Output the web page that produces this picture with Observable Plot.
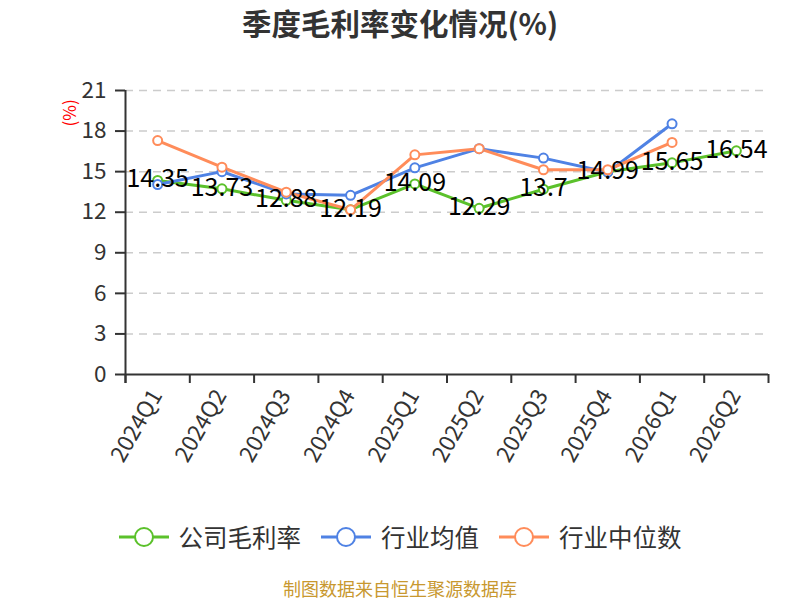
<!DOCTYPE html>
<html><head><meta charset="utf-8">
<script src="https://cdn.jsdelivr.net/npm/d3@7"></script>
<script src="https://cdn.jsdelivr.net/npm/@observablehq/plot@0.6"></script>
<style>
body{margin:0;background:#fff;font-family:"Noto Sans CJK SC",sans-serif}
#wrap{position:relative;width:800px;height:600px;overflow:hidden;background:#fff}
#chart{position:absolute;top:0;left:0}
#title{position:absolute;top:2px;left:0;width:800px;text-align:center;font-size:29.5px;font-weight:bold;color:#333;line-height:40px}
#legend{position:absolute;top:518px;left:0;width:800px;display:flex;justify-content:center;align-items:center;gap:20px;font-size:24.5px;color:#333;line-height:38px}
#legend .item{display:flex;align-items:center;gap:10px}
#footer{position:absolute;top:574px;left:0;width:800px;text-align:center;font-size:18px;color:#C8982F;line-height:28px}
</style></head>
<body>
<div id="wrap">
  <div id="chart"></div>
  <div id="title">季度毛利率变化情况(%)</div>
  <div id="legend"></div>
  <div id="footer">制图数据来自恒生聚源数据库</div>
</div>
<script>
const quarters = ["2024Q1","2024Q2","2024Q3","2024Q4","2025Q1","2025Q2","2025Q3","2025Q4","2026Q1","2026Q2"];
const company = [14.35, 13.73, 12.88, 12.19, 14.09, 12.29, 13.7, 14.99, 15.65, 16.54];
const industryMean = [14.05, 15.0, 13.35, 13.25, 15.28, 16.7, 16.0, 14.96, 18.54];
const industryMedian = [17.3, 15.33, 13.48, 12.18, 16.24, 16.7, 15.14, 15.14, 17.16];
const yTicks = [0, 3, 6, 9, 12, 15, 18, 21];
const seriesNames = ["公司毛利率", "行业均值", "行业中位数"];
const seriesColors = ["#5BC12B", "#4F82E4", "#FF8C5A"];

const toRows = vals => vals.map((v, i) => ({x: i + 0.5, y: v}));
const rows = [company, industryMean, industryMedian].map(toRows);
const bounds = d3.range(0, quarters.length + 1);
const centers = quarters.map((q, i) => i + 0.5);

const marks = [
  Plot.ruleY(yTicks.filter(v => v > 0), {stroke: "#ccc", strokeWidth: 1.5, strokeDasharray: "8,6"}),
  Plot.axisY({ticks: yTicks, tickSize: 10, tickPadding: 9, fontSize: 22.5, stroke: "#333", strokeWidth: 2, fill: "#333", label: null}),
  Plot.axisX({ticks: bounds, tickSize: 9, tickFormat: () => "", stroke: "#333", strokeWidth: 2, label: null}),
  Plot.ruleY([0], {stroke: "#333", strokeWidth: 2}),
  Plot.ruleX([0], {stroke: "#333", strokeWidth: 2, insetBottom: -9}),
  Plot.text(centers, {x: d => d, frameAnchor: "bottom", text: (d, i) => quarters[i], rotate: -60, textAnchor: "end", lineAnchor: "middle", dy: 17, dx: -1, fontSize: 22.5, fill: "#333"}),
  Plot.text(["(%)"], {frameAnchor: "top-left", text: d => d, dx: -62, dy: 36, rotate: -90, fill: "red", fontSize: 17})
];
rows.forEach((r, k) => {
  marks.push(Plot.line(r, {x: "x", y: "y", stroke: seriesColors[k], strokeWidth: 3}));
});
rows.forEach((r, k) => {
  marks.push(Plot.dot(r, {x: "x", y: "y", r: 4.5, fill: "white", stroke: seriesColors[k], strokeWidth: 2}));
});
marks.push(Plot.text(rows[0], {x: "x", y: "y", text: d => String(d.y), fontSize: 25, fill: "#000", dy: -1}));

const chart = Plot.plot({
  width: 800, height: 600,
  marginTop: 90, marginBottom: 226, marginLeft: 125, marginRight: 32,
  x: {type: "linear", domain: [0, quarters.length]},
  y: {domain: [0, 21]},
  style: {fontFamily: "Noto Sans CJK SC, sans-serif", color: "#333", background: "transparent"},
  marks
});
document.getElementById("chart").appendChild(chart);

const legend = document.getElementById("legend");
seriesNames.forEach((n, k) => {
  const item = document.createElement("div");
  item.className = "item";
  item.innerHTML = `<svg width="50" height="22"><line x1="0" y1="11" x2="50" y2="11" stroke="${seriesColors[k]}" stroke-width="3"/><circle cx="25" cy="11" r="9" fill="white" stroke="${seriesColors[k]}" stroke-width="2"/></svg><span>${n}</span>`;
  legend.appendChild(item);
});
</script>
</body></html>
